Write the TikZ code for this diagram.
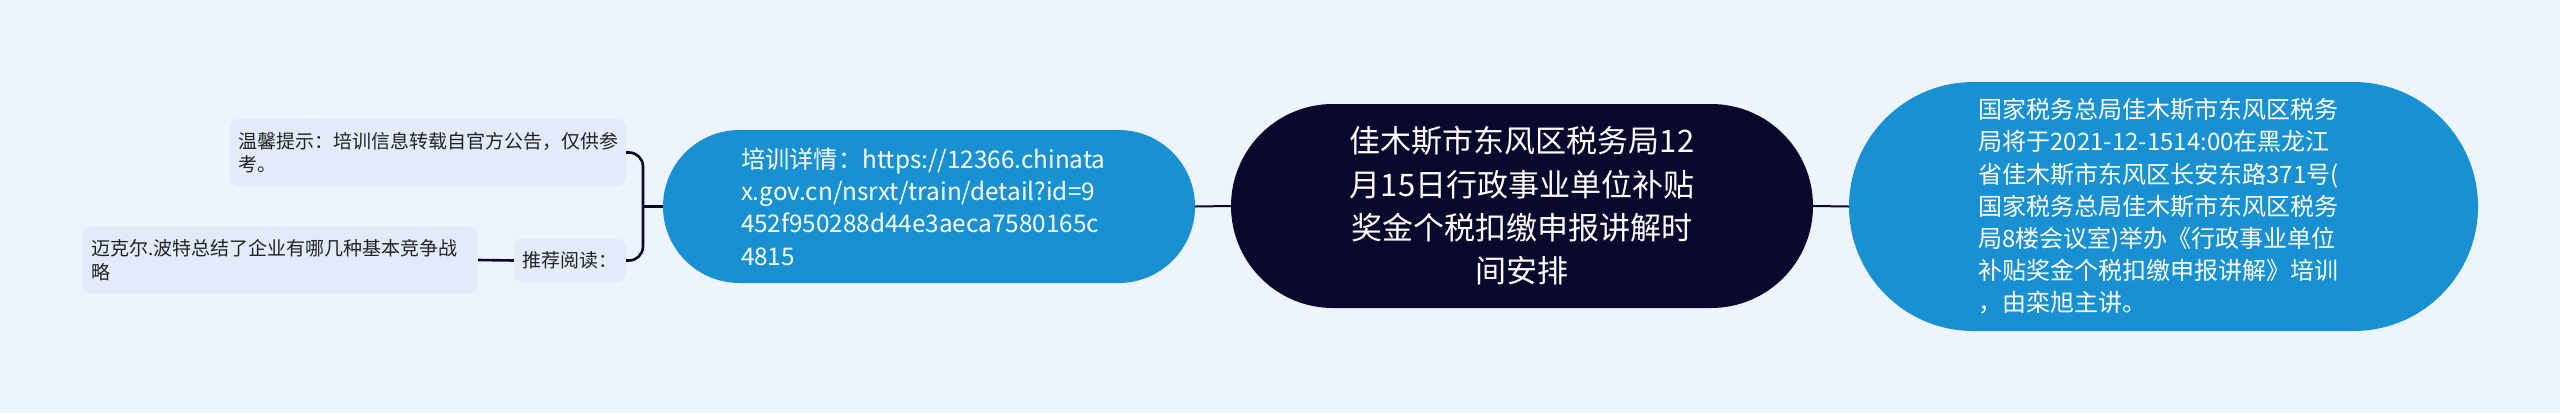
\documentclass[tikz,border=0pt]{standalone}
\usepackage{fontspec}
\setmainfont{Noto Sans CJK SC}
\usetikzlibrary{shapes.misc}
\definecolor{bg}{HTML}{EEF4FE}
\definecolor{boxfill}{HTML}{E1EBFA}
\definecolor{nodeblue}{HTML}{1890D1}
\definecolor{navy}{HTML}{0B082E}
\definecolor{ink}{HTML}{222222}
\begin{document}
\begin{tikzpicture}[x=1pt,y=-1pt,
  pill/.style={rounded rectangle, inner sep=0pt, align=left, text=white},
  leaf/.style={rectangle, rounded corners=8pt, fill=boxfill, inner sep=0pt, align=left, text=ink, font=\fontsize{19}{23.3}\selectfont},
  link/.style={draw=navy, line width=2pt},
  brk/.style={draw=navy, line width=2.6pt, rounded corners=14pt}]
\path[fill=bg] (0,0) rectangle (2560,413);
\node[pill, fill=navy, minimum width=582pt, minimum height=204pt, align=center, font=\fontsize{31}{43.3}\selectfont] (root) at (1522,206) {佳木斯市东风区税务局12\\月15日行政事业单位补贴\\奖金个税扣缴申报讲解时\\间安排};
\node[pill, fill=nodeblue, minimum width=532pt, minimum height=153pt, text width=376pt, font=\fontsize{24.3}{32.3}\selectfont] (detail) at (929,206.5) {培训详情：https://12366.chinata\\x.gov.cn/nsrxt/train/detail?id=9\\452f950288d44e3aeca7580165c\\4815};
\node[pill, fill=nodeblue, minimum width=629pt, minimum height=249pt, text width=370pt, font=\fontsize{24}{32.2}\selectfont] (info) at (2163.5,206.5) {国家税务总局佳木斯市东风区税务\\局将于2021-12-1514:00在黑龙江\\省佳木斯市东风区长安东路371号(\\国家税务总局佳木斯市东风区税务\\局8楼会议室)举办《行政事业单位\\补贴奖金个税扣缴申报讲解》培训\\，由栾旭主讲。};
\node[leaf, minimum width=396pt, minimum height=67pt, text width=379pt] (tip) at (428,152.5) {温馨提示：培训信息转载自官方公告，仅供参\\考。};
\node[leaf, minimum width=112pt, minimum height=43pt] (rec) at (570,260.5) {推荐阅读：};
\node[leaf, minimum width=396pt, minimum height=66pt, text width=377pt] (porter) at (280,260) {迈克尔.波特总结了企业有哪几种基本竞争战\\略};
\coordinate (j) at (643,206.5);
\draw[brk] (detail.west) -- (j);
\draw[brk] (tip.east) -| (j);
\draw[brk] (rec.east) -| (j);
\draw[brk] (porter.east) -- (rec.west);
\draw[link] (detail.east) -- (root.west);
\draw[link] (root.east) -- (info.west);
\end{tikzpicture}
\end{document}
